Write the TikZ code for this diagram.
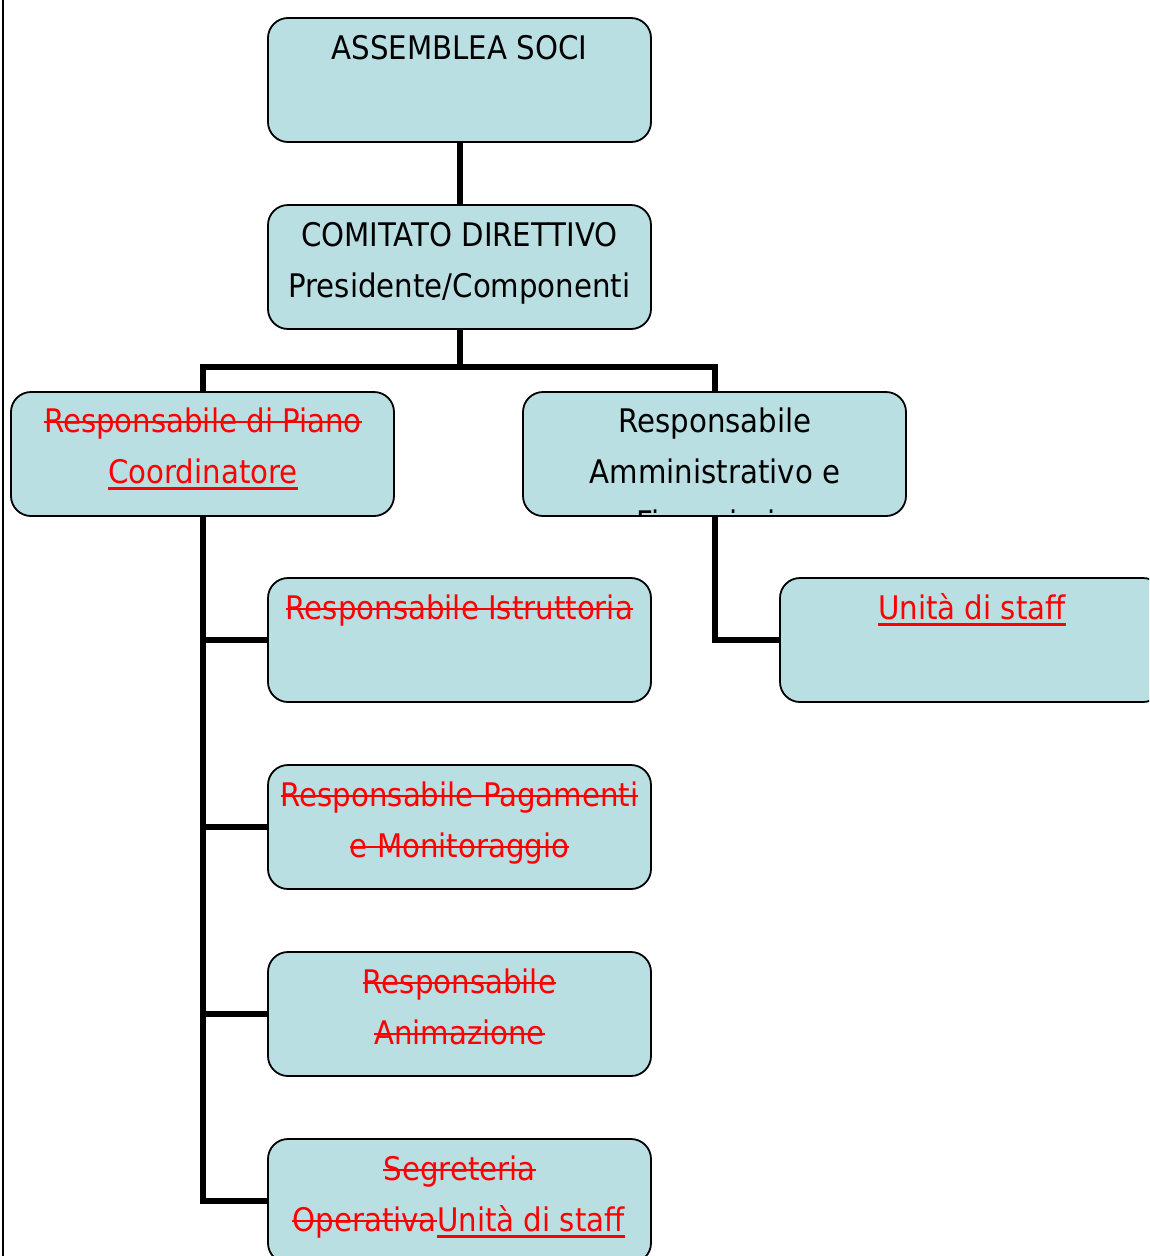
\documentclass[tikz,border=0pt]{standalone}
\usepackage{fontspec}
\setmainfont{DejaVu Sans Condensed}
\definecolor{boxfill}{HTML}{B9DFE3}
\definecolor{txtred}{HTML}{FF0000}
\pgfdeclarelayer{bg}
\pgfsetlayers{bg,main}
\begin{document}
\begin{tikzpicture}[x=1pt,y=-1pt,
  orgbox/.style={draw=black, line width=1.8pt, fill=boxfill, rounded corners=20pt,
    minimum width=383pt, minimum height=124pt, inner sep=0pt, outer sep=0pt, anchor=north west},
  txt/.style={anchor=base, inner sep=0pt, font=\fontsize{32.5}{38}\selectfont},
  rtxt/.style={txt, text=txtred},
  rline/.style={draw=txtred, line width=2.8pt},
  conn/.style={draw=black, line width=6pt, line join=miter, line cap=rect}]
\useasboundingbox (0,0) rectangle (1149,1256);
\clip (0,0) rectangle (1149,1256);
\draw[line width=2pt] (3,0) -- (3,1256);

% boxes
\node[orgbox] (A) at (268,18) {};
\node[orgbox] (B) at (268,205) {};
\node[orgbox] (C) at (11,392) {};
\node[orgbox] (D) at (523,392) {};
\node[orgbox] (E) at (780,578) {};
\node[orgbox] (F) at (268,578) {};
\node[orgbox] (G) at (268,765) {};
\node[orgbox] (H) at (268,952) {};
\node[orgbox] (I) at (268,1139) {};

% connectors (behind the boxes)
\begin{pgfonlayer}{bg}
\draw[conn] (A.south) -- (B.north);
\draw[conn] (B.south) -- ++(0,38) coordinate (j1);
\draw[conn] (C.north) |- (j1) -| (D.north);
\draw[conn] (C.south) |- (I.west);
\draw[conn] (C.south |- F.west) -- (F.west);
\draw[conn] (C.south |- G.west) -- (G.west);
\draw[conn] (C.south |- H.west) -- (H.west);
\draw[conn] (D.south) |- (E.west);
\end{pgfonlayer}

% texts
\node[txt] (At) at (459.5,59) {ASSEMBLEA SOCI};
\node[txt] (Bt1) at (459.5,246) {COMITATO DIRETTIVO};
\node[txt] (Bt2) at (459.5,297) {Presidente/Componenti};
\node[rtxt] (Ct1) at (203,432) {Responsabile di Piano};
\node[rtxt] (Ct2) at (203,483) {Coordinatore};
\node[txt] (Dt1) at (715,432) {Responsabile};
\node[txt] (Dt2) at (715,483) {Amministrativo e};
\begin{scope}
  \clip[rounded corners=20pt] (524,393) rectangle (906,515);
  \node[txt] (Dt3) at (715,534) {Finanziario};
\end{scope}
\node[rtxt] (Et) at (972,619) {Unità di staff};
\node[rtxt] (Ft) at (459.5,619) {Responsabile Istruttoria};
\node[rtxt] (Gt1) at (459.5,806) {Responsabile Pagamenti};
\node[rtxt] (Gt2) at (459.5,857) {e Monitoraggio};
\node[rtxt] (Ht1) at (459.5,993) {Responsabile};
\node[rtxt] (Ht2) at (459.5,1044) {Animazione};
\node[rtxt] (It1) at (459.5,1180) {Segreteria};
\node[rtxt, anchor=base east] (It2a) at (437,1231) {Operativa};
\node[rtxt, anchor=base west] (It2b) at (It2a.base east) {Unità di staff};

% strike-through lines
\foreach \n in {Ct1,Ft,Gt1,Gt2,Ht1,Ht2,It1,It2a}{
  \draw[rline] ([yshift=10pt]\n.base west) -- ([yshift=10pt]\n.base east);
}
% underlines
\foreach \n in {Ct2,Et,It2b}{
  \draw[rline] ([yshift=-5.5pt]\n.base west) -- ([yshift=-5.5pt]\n.base east);
}
\end{tikzpicture}
\end{document}
